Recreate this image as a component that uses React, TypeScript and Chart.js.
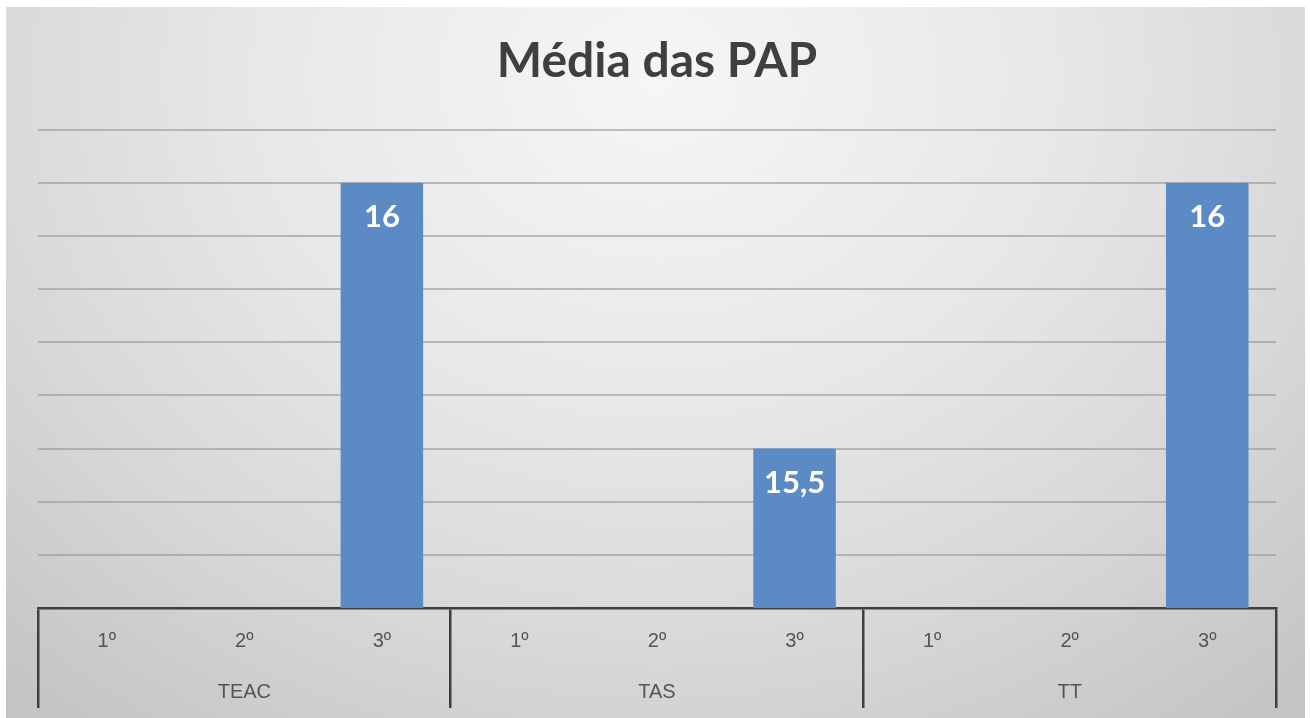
import React, { useEffect, useRef } from "react";
import { Chart, registerables } from "chart.js";

Chart.register(...registerables);

const TITLE = "Média das PAP";
const YEARS = ["1º", "2º", "3º"];
const COURSES = ["TEAC", "TAS", "TT"];
// values per course, per year (null = no bar)
const TEAC_VALUES = [null, null, 16];
const TAS_VALUES = [null, null, 15.5];
const TT_VALUES = [null, null, 16];
const Y_MIN = 15.2;
const Y_MAX = 16.1;
const Y_STEP = 0.1;

const labels: (string[])[] = [];
COURSES.forEach((c) => {
  YEARS.forEach((y, i) => {
    labels.push([y, i === 1 ? c : ""]);
  });
});
const values = [...TEAC_VALUES, ...TAS_VALUES, ...TT_VALUES];

const FONT = "Lato, 'Open Sans', sans-serif";
const TICK_FONT = "'Liberation Sans', Lato, sans-serif";
const DARK = "#3f3f3f";

const valueLabels = {
  id: "valueLabels",
  afterDatasetsDraw(chart: any) {
    const ctx = chart.ctx;
    const meta = chart.getDatasetMeta(0);
    const data = chart.data.datasets[0].data;
    ctx.save();
    ctx.fillStyle = "#ffffff";
    ctx.font = `bold 31px ${FONT}`;
    ctx.textAlign = "center";
    ctx.textBaseline = "middle";
    meta.data.forEach((el: any, i: number) => {
      const v = data[i];
      if (v === null || v === undefined) return;
      ctx.fillText(String(v).replace(".", ","), el.x, el.y + 34);
    });
    ctx.restore();
  },
};

export default function App() {
  const ref = useRef<HTMLCanvasElement | null>(null);
  useEffect(() => {
    if (!ref.current) return;
    const chart = new Chart(ref.current, {
      type: "bar",
      data: {
        labels,
        datasets: [
          {
            data: values,
            backgroundColor: "#5B8AC4",
            borderWidth: 0,
            barPercentage: 0.6,
            categoryPercentage: 1,
          },
        ],
      },
      options: {
        animation: false,
        responsive: true,
        maintainAspectRatio: false,
        layout: { padding: { left: 32, right: 29, top: 0, bottom: 0 } },
        plugins: {
          legend: { display: false },
          tooltip: { enabled: false },
          title: {
            display: true,
            text: TITLE,
            color: DARK,
            font: { family: FONT, size: 48, weight: "bold", lineHeight: 1.2 },
            padding: { top: 26, bottom: 39 },
          },
        },
        scales: {
          x: {
            grid: {
              offset: true,
              drawOnChartArea: false,
              drawTicks: true,
              tickLength: 100,
              lineWidth: 2.5,
              color: (c: any) =>
                c.index === undefined || c.index % 3 === 0 ? DARK : "rgba(0,0,0,0)",
            },
            border: { display: true, color: DARK, width: 2.5 },
            ticks: {
              color: "#555555",
              padding: -92.5,
              autoSkip: false,
              maxRotation: 0,
              font: { family: TICK_FONT, size: 20, lineHeight: 51 / 20 },
            },
            title: {
              display: true,
              text: "",
              font: { size: 12, lineHeight: 1 },
              padding: { top: 0, bottom: 81 },
            },
          },
          y: {
            min: Y_MIN,
            max: Y_MAX,
            ticks: { display: false, stepSize: Y_STEP },
            border: { display: false },
            grid: {
              drawTicks: false,
              lineWidth: 2,
              color: (c: any) => (c.index === 0 ? "rgba(0,0,0,0)" : "rgba(150,150,150,0.6)"),
            },
          },
        },
      },
      plugins: [valueLabels],
    });
    return () => chart.destroy();
  }, []);

  return (
    <div
      style={{
        position: "absolute",
        left: 6,
        top: 7,
        width: 1299,
        height: 711,
        background:
          "radial-gradient(ellipse 75% 115% at 50% 10%, #f6f6f6 0%, #e8e8e8 40%, #d8d8d8 70%, #c4c4c4 100%)",
      }}
    >
      <canvas ref={ref} />
    </div>
  );
}
